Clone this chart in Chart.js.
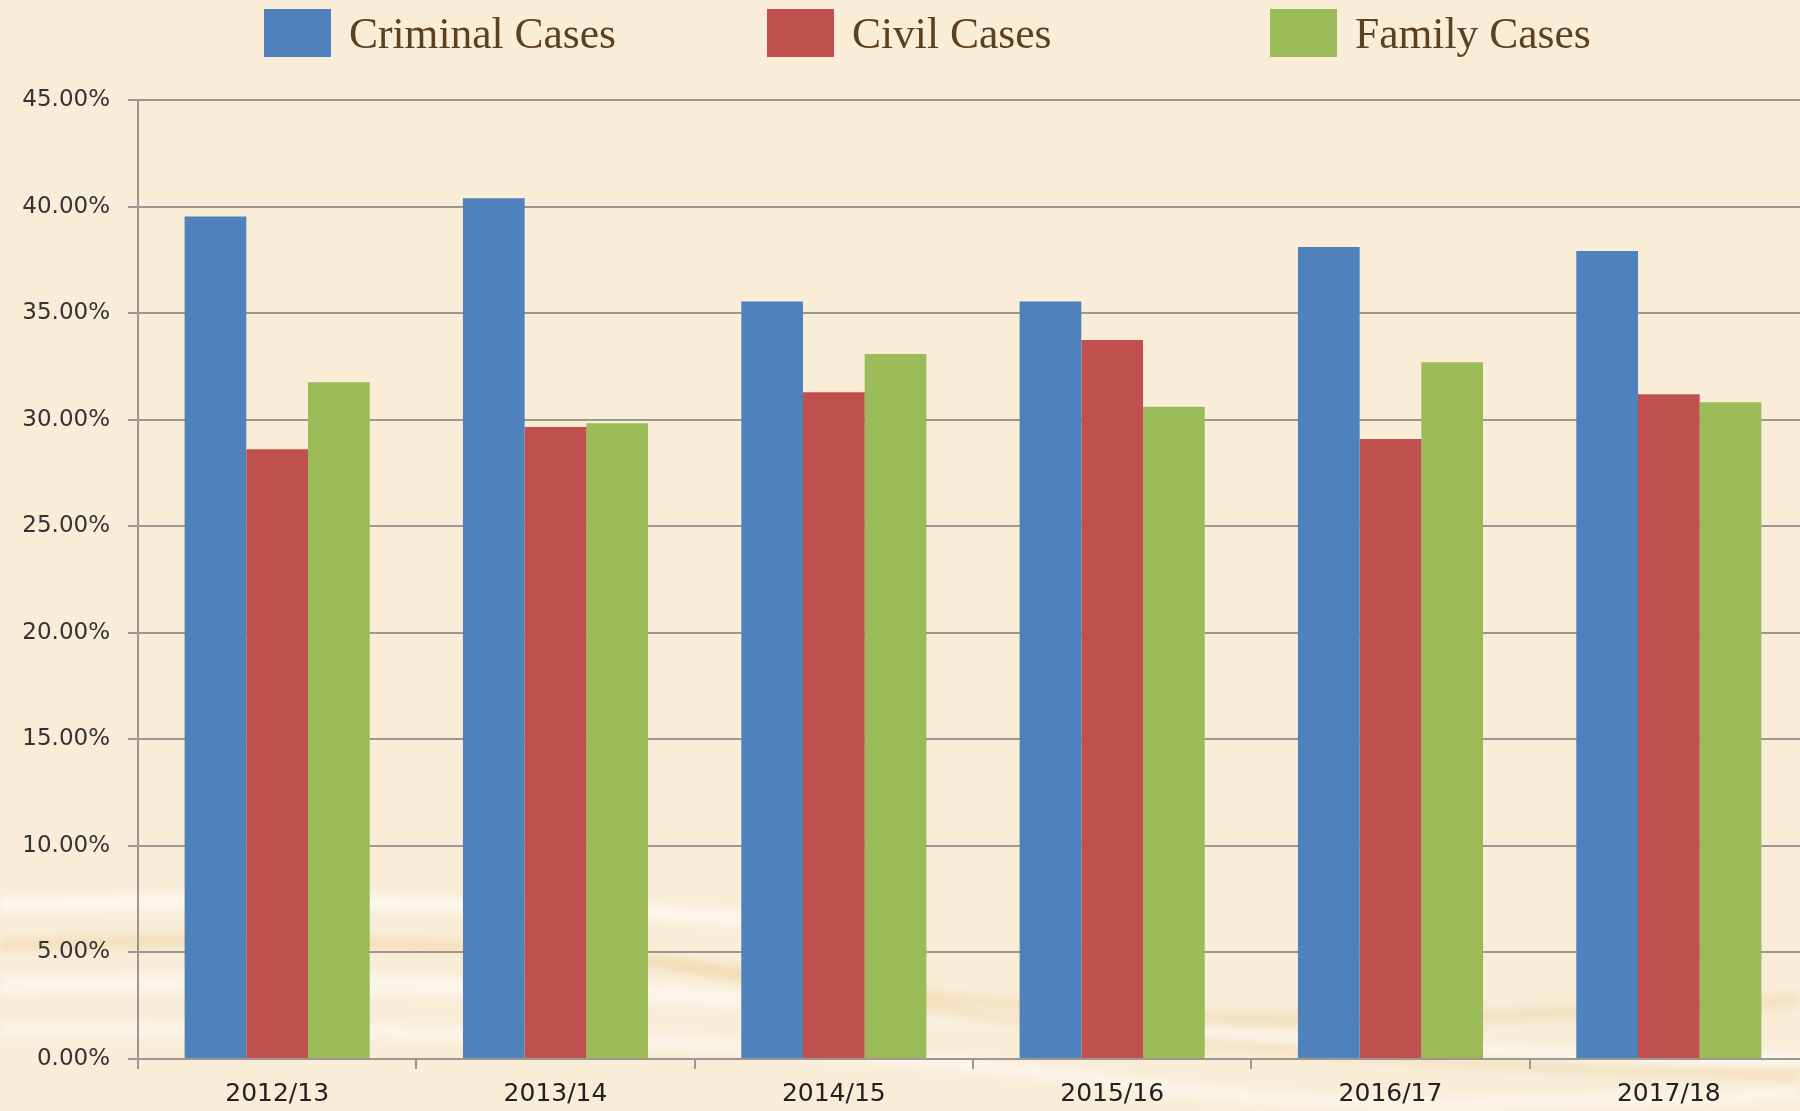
<!DOCTYPE html>
<html><head><meta charset="utf-8">
<script src="https://cdn.jsdelivr.net/npm/chart.js@4/dist/chart.umd.min.js"></script>
<style>
html,body{margin:0;padding:0;width:1800px;height:1111px;overflow:hidden;background:#F9EDD8;}
#wrap{position:relative;width:1800px;height:1111px;overflow:hidden;}
#bg{position:absolute;left:0;top:0;}
#cw{position:absolute;left:0;top:0;width:1812px;height:1111px;}
#legend{position:absolute;left:0;top:0;width:1800px;height:80px;}
.li{position:absolute;top:0;height:80px;}
.box{position:absolute;top:9px;left:0;width:67px;height:48px;}
.lt{position:absolute;left:85px;top:12px;font-family:"Liberation Serif",serif;font-size:43.5px;line-height:43px;color:#5C4120;white-space:nowrap;}
</style></head>
<body><div id="wrap">
<svg id="bg" width="1800" height="1111" viewBox="0 0 1800 1111">
<defs><filter id="bl" x="-10%" y="-50%" width="120%" height="200%"><feGaussianBlur stdDeviation="5"/></filter></defs>
<g filter="url(#bl)" fill="none">
<path d="M0 905 C 300 895, 600 905, 900 930" stroke="#ffffff" stroke-opacity="0.55" stroke-width="14"/>
<path d="M0 945 C 250 935, 500 940, 760 975 S 1200 1040, 1800 1000" stroke="#F1DBB4" stroke-opacity="0.8" stroke-width="12"/>
<path d="M0 985 C 300 980, 600 985, 900 1010 S 1400 1060, 1800 1060" stroke="#ffffff" stroke-opacity="0.45" stroke-width="18"/>
<path d="M0 1030 C 400 1025, 800 1040, 1100 1080 S 1500 1100, 1800 1095" stroke="#ffffff" stroke-opacity="0.4" stroke-width="14"/>
<path d="M650 960 C 900 1010, 1200 1060, 1800 1075" stroke="#F0D8AE" stroke-opacity="0.7" stroke-width="10"/>
</g>
</svg>
<div id="cw"><canvas id="c" width="1812" height="1111"></canvas></div>
<div id="legend"></div>
</div>
<script>
const categories = ['2012/13','2013/14','2014/15','2015/16','2016/17','2017/18'];
const seriesNames = ['Criminal Cases','Civil Cases','Family Cases'];
const criminal = [39.53, 40.39, 35.54, 35.54, 38.10, 37.92];
const civil    = [28.61, 29.66, 31.29, 33.74, 29.09, 31.19];
const family   = [31.75, 29.83, 33.08, 30.61, 32.69, 30.82];
const colors = ['#4F81BD','#C0504D','#9BBB59'];
const yTicks = {min:0, max:45, step:5};

const GRID = '#9c9891';
const values = [criminal, civil, family];
const datasets = seriesNames.map((n,i)=>({
  label:n, data:values[i], backgroundColor:colors[i], borderWidth:0,
  categoryPercentage:0.665, barPercentage:1.0
}));

const chart = new Chart(document.getElementById('c'), {
  type:'bar',
  data:{labels:categories, datasets},
  options:{
    responsive:false, animation:false,
    layout:{padding:{left:0,right:4,top:100,bottom:0}},
    plugins:{legend:{display:false}, tooltip:{enabled:false}},
    scales:{
      x:{
        grid:{offset:true, drawOnChartArea:false, drawTicks:true, tickLength:10, color:GRID, lineWidth:2},
        border:{color:GRID, width:2},
        ticks:{font:{family:'DejaVu Sans', size:25}, color:'#222222', padding:10},
        afterFit:(s)=>{s.height=52;}
      },
      y:{
        min:yTicks.min, max:yTicks.max,
        ticks:{stepSize:yTicks.step, callback:v=>Number(v).toFixed(2)+'%', font:{family:'DejaVu Sans', size:23}, color:'#333333', padding:18},
        grid:{color:GRID, lineWidth:2, tickLength:10},
        border:{color:GRID, width:2},
        afterFit:(s)=>{s.width=138;}
      }
    }
  }
});

// HTML legend built from chart datasets
const lg = document.getElementById('legend');
chart.data.datasets.forEach((ds,i)=>{
  const it = document.createElement('div');
  it.className='li'; it.style.left=(264+i*503)+'px';
  const b = document.createElement('div'); b.className='box'; b.style.background=ds.backgroundColor;
  const t = document.createElement('div'); t.className='lt'; t.textContent=ds.label;
  it.appendChild(b); it.appendChild(t); lg.appendChild(it);
});
</script>
</body></html>
